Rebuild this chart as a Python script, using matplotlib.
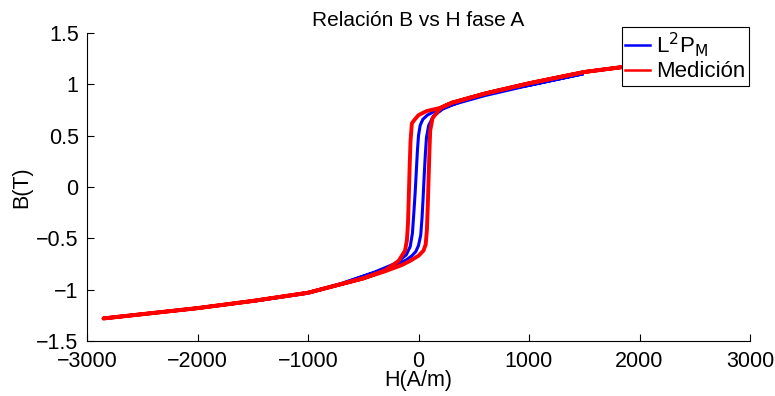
import matplotlib
matplotlib.use("Agg")
import matplotlib.pyplot as plt

plt.rcParams['font.family'] = ['Liberation Sans', 'DejaVu Sans']

# Measured loop (red): descending (upper) branch and ascending (lower) branch
med_up_H = [2850, 2000, 1500, 1000, 600, 300, 195, 74, 0, -32, -60, -72, -80, -88, -95, -105, -122, -180, -300, -500, -1000, -1500, -2000, -2850]
med_up_B = [1.28, 1.19, 1.12, 1.01, 0.91, 0.82, 0.77, 0.74, 0.70, 0.66, 0.62, 0.45, 0.20, -0.10, -0.35, -0.52, -0.62, -0.72, -0.81, -0.89, -1.03, -1.11, -1.18, -1.28]
med_lo_H = [-2850, -2000, -1500, -1000, -500, -300, -150, -77, 0, 45, 65, 76, 84, 92, 99, 106, 127, 200, 300, 600, 1000, 1500, 2000, 2850]
med_lo_B = [-1.28, -1.18, -1.11, -1.03, -0.89, -0.82, -0.76, -0.72, -0.67, -0.62, -0.56, -0.42, -0.18, 0.10, 0.35, 0.55, 0.67, 0.77, 0.82, 0.91, 1.01, 1.12, 1.19, 1.28]

# Model loop (blue, L2PM)
mod_up_H = [1480, 1000, 600, 300, 150, 80, 40, 15, 0, -10, -20, -30, -42, -55, -75, -110, -200, -400, -700, -1000, -1480]
mod_up_B = [1.10, 0.99, 0.89, 0.80, 0.74, 0.70, 0.66, 0.60, 0.50, 0.35, 0.15, -0.05, -0.25, -0.45, -0.58, -0.66, -0.74, -0.83, -0.94, -1.03, -1.11]
mod_lo_H = [-1480, -1000, -700, -400, -200, -110, -60, -25, 0, 20, 32, 42, 52, 62, 72, 92, 135, 220, 400, 700, 1000, 1480]
mod_lo_B = [-1.11, -1.035, -0.945, -0.835, -0.76, -0.71, -0.67, -0.63, -0.57, -0.47, -0.30, -0.10, 0.12, 0.32, 0.48, 0.60, 0.69, 0.76, 0.84, 0.94, 0.99, 1.10]

xticks = [-3000, -2000, -1000, 0, 1000, 2000, 3000]
yticks = [-1.5, -1, -0.5, 0, 0.5, 1, 1.5]
ytick_labels = ['\u22121.5', '\u22121', '\u22120.5', '0', '0.5', '1', '1.5']
xtick_labels = ['\u22123000', '\u22122000', '\u22121000', '0', '1000', '2000', '3000']

fig = plt.figure(figsize=(7.75, 3.96), dpi=100)
ax = fig.add_axes([87/775, 1 - 341/396, (750 - 87)/775, (341 - 33)/396])

ax.plot(mod_up_H + mod_lo_H, mod_up_B + mod_lo_B, color='#0000ff', lw=2.2, label='L$^2$P$_\\mathrm{M}$')
ax.plot(med_up_H + med_lo_H, med_up_B + med_lo_B, color='#ff0000', lw=2.8, label='Medición')

ax.set_xlim(-3000, 3000)
ax.set_ylim(-1.5, 1.5)
ax.set_xticks(xticks)
ax.set_xticklabels(xtick_labels)
ax.set_yticks(yticks)
ax.set_yticklabels(ytick_labels)
ax.tick_params(direction='in', length=5, labelsize=15.5, width=0.8)
ax.tick_params(axis='x', pad=7)
ax.tick_params(axis='y', pad=6)
ax.spines['top'].set_visible(False)
ax.spines['right'].set_visible(False)
ax.set_title('Relación B vs H fase A', fontsize=15, pad=5)
ax.set_xlabel('H(A/m)', fontsize=15.5, labelpad=-1)
ax.set_ylabel('B(T)', fontsize=15.5, labelpad=3)

leg = ax.legend(loc='upper right', bbox_to_anchor=(749/775, 1 - 27/396), bbox_transform=fig.transFigure,
                fontsize=16, frameon=True, fancybox=False, framealpha=1, edgecolor='black',
                handlelength=1.1, handletextpad=0.3, borderpad=0.15, labelspacing=0.1, borderaxespad=0)
leg.get_frame().set_linewidth(0.8)
for l in leg.get_lines():
    l.set_linewidth(1.8)

fig.savefig('out.png', dpi=100)
